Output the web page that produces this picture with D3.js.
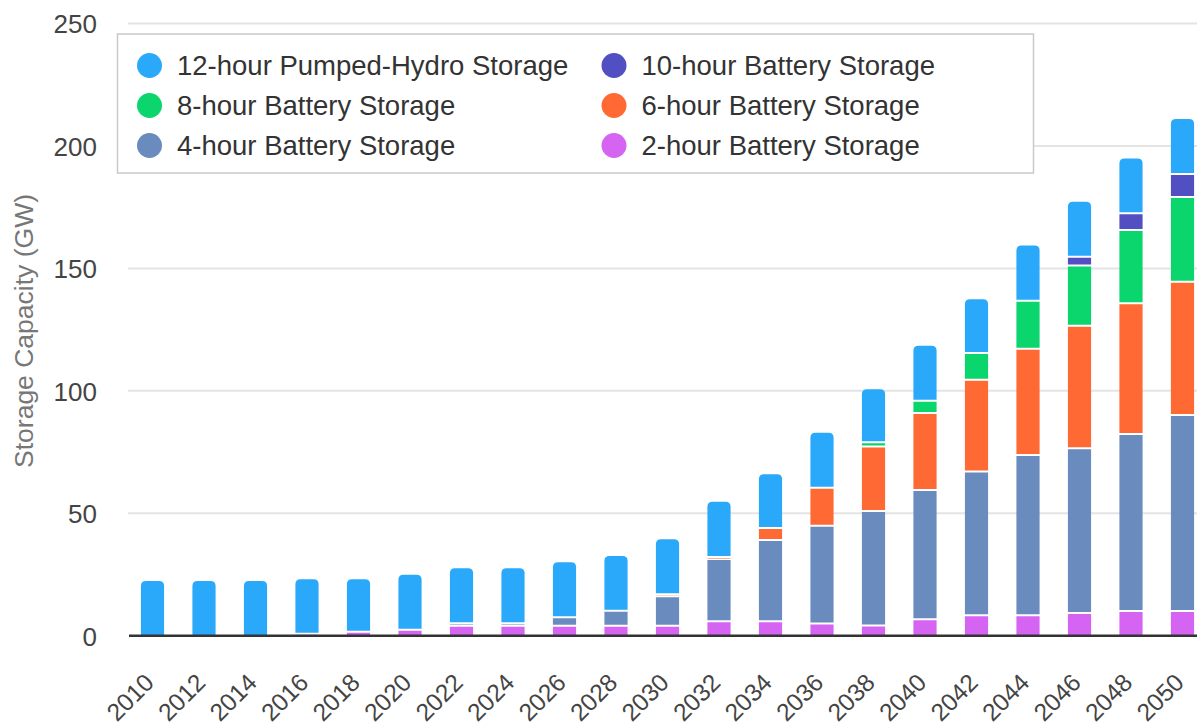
<!DOCTYPE html>
<html>
<head>
<meta charset="utf-8">
<script src="https://cdn.jsdelivr.net/npm/d3@7"></script>
<style>
  html, body { margin: 0; padding: 0; background: #fff; }
  svg { display: block; font-family: "Liberation Sans", Arial, sans-serif; }
</style>
</head>
<body>
<svg width="1197" height="726"></svg>
<script>
// years on the x axis
var years = [2010, 2012, 2014, 2016, 2018, 2020, 2022, 2024, 2026, 2028, 2030,
             2032, 2034, 2036, 2038, 2040, 2042, 2044, 2046, 2048, 2050];

// capacity in GW
var twoHour   = [0, 0, 0, 0.8, 1.6, 2.4, 4.1, 4.1, 4.1, 4.1, 4.1, 5.9, 5.9, 5.0, 4.2, 6.7, 8.4, 8.4, 9.3, 10.1, 10.1];
var fourHour  = [0, 0, 0, 0, 0, 0, 1.0, 1.0, 3.4, 6.1, 12.0, 25.4, 33.2, 39.9, 46.7, 52.8, 58.7, 65.4, 67.2, 72.3, 80.0];
var sixHour   = [0, 0, 0, 0, 0, 0, 0, 0, 0, 0, 0.8, 0.8, 4.9, 15.5, 26.4, 31.4, 37.4, 43.4, 50.1, 53.4, 54.4];
var eightHour = [0, 0, 0, 0, 0, 0, 0, 0, 0, 0, 0, 0, 0, 0, 1.7, 5.0, 10.9, 19.6, 24.6, 29.9, 34.7];
var tenHour   = [0, 0, 0, 0, 0, 0, 0, 0, 0, 0, 0, 0, 0, 0, 0, 0, 0, 0, 3.6, 6.8, 9.3];
var pumpedHydro = [22.3, 22.3, 22.3, 22.3, 21.5, 22.5, 22.4, 22.4, 22.5, 22.3, 22.5,
                   22.6, 21.9, 22.5, 21.6, 22.5, 22.0, 22.5, 22.4, 22.4, 22.5];

var yTicks = [0, 50, 100, 150, 200, 250];

// stack order bottom -> top
var series = [
    {key: "h2",  name: "2-hour Battery Storage",        color: "#d664f3", values: twoHour},
    {key: "h4",  name: "4-hour Battery Storage",        color: "#6a8bbd", values: fourHour},
    {key: "h6",  name: "6-hour Battery Storage",        color: "#fe6934", values: sixHour},
    {key: "h8",  name: "8-hour Battery Storage",        color: "#0bd56d", values: eightHour},
    {key: "h10", name: "10-hour Battery Storage",       color: "#524fc2", values: tenHour},
    {key: "ph",  name: "12-hour Pumped-Hydro Storage",  color: "#2aa9fb", values: pumpedHydro}
];

var rows = years.map(function(yr, i) {
    var r = {year: yr};
    series.forEach(function(s) { r[s.key] = s.values[i]; });
    return r;
});

var svg = d3.select("svg"),
    width = 1197,
    height = 726;

var x0 = 126.75, step = 51.5;
var x = d3.scaleBand()
    .domain(years)
    .range([x0, x0 + step * years.length])
    .paddingInner(0.55)
    .paddingOuter(0.275);

var y = d3.scaleLinear()
    .domain([0, 250])
    .range([635.7, 23.5]);

// gridlines
svg.append("g")
    .selectAll("line")
    .data(yTicks.filter(function(t) { return t > 0; }))
    .enter().append("line")
    .attr("x1", 128)
    .attr("x2", width)
    .attr("y1", function(d) { return y(d); })
    .attr("y2", function(d) { return y(d); })
    .attr("stroke", "#e4e4e4")
    .attr("stroke-width", 2);

// y axis labels
var yAxis = d3.axisLeft(y).tickValues(yTicks).tickSize(0).tickPadding(0);
var yg = svg.append("g")
    .attr("transform", "translate(97,0)")
    .call(yAxis);
yg.select(".domain").remove();
yg.selectAll("text")
    .attr("dy", "0.36em")
    .style("font-size", "26px")
    .style("fill", "#444");

svg.append("text")
    .attr("transform", "translate(33,331) rotate(-90)")
    .style("text-anchor", "middle")
    .style("font-size", "26.5px")
    .style("fill", "#777")
    .text("Storage Capacity (GW)");

// stacked bars
var stack = d3.stack().keys(series.map(function(s) { return s.key; }));
var layers = stack(rows);

// index of topmost non-zero layer per bar
var topIdx = years.map(function(yr, i) {
    var t = -1;
    layers.forEach(function(l, li) { if (l[i][1] - l[i][0] > 0) t = li; });
    return t;
});

function segPath(xl, w, yt, yb, r) {
    r = Math.min(r, (yb - yt), w / 2);
    return "M" + xl + "," + yb +
        "V" + (yt + r) +
        "Q" + xl + "," + yt + " " + (xl + r) + "," + yt +
        "H" + (xl + w - r) +
        "Q" + (xl + w) + "," + yt + " " + (xl + w) + "," + (yt + r) +
        "V" + yb + "Z";
}

var bw = x.bandwidth();
svg.append("g")
    .selectAll("g")
    .data(layers)
    .enter().append("g")
    .attr("fill", function(d, i) { return series[i].color; })
    .each(function(layer, li) {
        d3.select(this).selectAll("path")
            .data(layer.filter(function(d) { return d[1] - d[0] > 0; }))
            .enter().append("path")
            .attr("d", function(d) {
                var i = years.indexOf(d.data.year);
                var isTop = topIdx[i] === li;
                var yt = y(d[1]) + (isTop ? 0 : 1);
                var yb = y(d[0]) - (d[0] === 0 ? 0 : 1);
                if (yb - yt < 0.3) yb = yt + 0.3;
                return segPath(x(d.data.year), bw, yt, yb, isTop ? 5 : 0);
            });
    });

// baseline
svg.append("line")
    .attr("x1", 129)
    .attr("x2", width)
    .attr("y1", y(0))
    .attr("y2", y(0))
    .attr("stroke", "#333")
    .attr("stroke-width", 2.5);

// x labels
svg.append("g")
    .selectAll("text")
    .data(years)
    .enter().append("text")
    .attr("transform", function(d) {
        return "translate(" + (x(d) + bw / 2 + 3) + ",684) rotate(-45)";
    })
    .style("text-anchor", "end")
    .style("font-size", "24.5px")
    .style("fill", "#444")
    .text(function(d) { return d; });

// legend
var legend = svg.append("g");
legend.append("rect")
    .attr("x", 117.5)
    .attr("y", 34)
    .attr("width", 916)
    .attr("height", 139)
    .attr("fill", "#fff")
    .attr("stroke", "#c9c9c9")
    .attr("stroke-width", 1.5);

var legendOrder = ["ph", "h8", "h4", "h10", "h6", "h2"];
var legendItems = legendOrder.map(function(k) {
    return series.filter(function(s) { return s.key === k; })[0];
});

var li = legend.selectAll(".item")
    .data(legendItems)
    .enter().append("g")
    .attr("class", "item")
    .attr("transform", function(d, i) {
        var col = Math.floor(i / 3), row = i % 3;
        return "translate(" + (col === 0 ? 149.5 : 614) + "," + (65.5 + row * 40) + ")";
    });

li.append("circle")
    .attr("r", 12.5)
    .attr("fill", function(d) { return d.color; });

li.append("text")
    .attr("x", 27.5)
    .attr("dy", "0.35em")
    .style("font-size", "27.5px")
    .style("fill", "#333")
    .text(function(d) { return d.name; });
</script>
</body>
</html>
